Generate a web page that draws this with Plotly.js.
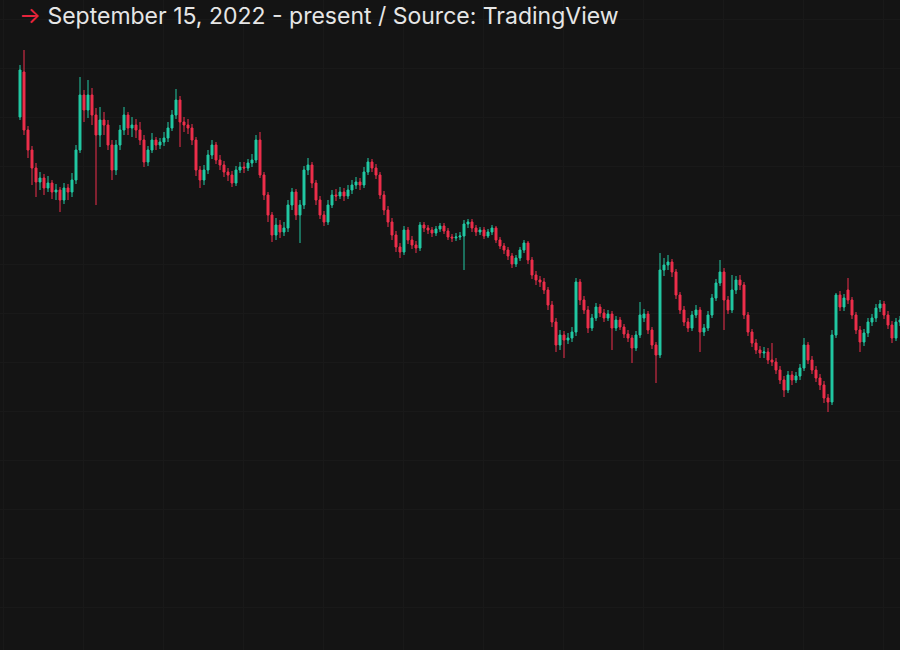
<!DOCTYPE html>
<html>
<head>
<meta charset="utf-8">
<script src="https://cdn.plot.ly/plotly-3.0.1.min.js"></script>
<style>
  html, body { margin: 0; padding: 0; background: #141414; }
  #chart { width: 900px; height: 650px; }
</style>
</head>
<body>
<div id="chart"></div>
<script>
// ETH/BTC-style ratio, values in units of 0.0001 (3-day candles from 2022-09-15)
const startDate = '2022-09-15';
const stepDays = 3;

const openV = [
783,828,770,750,732,718,722,712,717,708,
710,700,712,708,720,750,805,790,805,785,
765,780,775,755,730,755,770,785,772,775,
770,760,738,750,760,755,758,762,772,785,
800,778,775,772,760,730,720,730,745,755,
740,735,728,725,717,730,733,732,737,740,
760,725,705,685,665,675,668,672,695,708,
685,695,730,735,717,700,685,678,695,705,
704,708,704,710,715,718,715,728,738,732,
725,705,690,678,665,653,648,670,660,655,
652,675,672,670,667,671,674,669,663,662,
663,664,676,678,672,668,670,664,668,672,
660,654,650,644,636,642,650,657,640,625,
620,618,610,595,578,555,565,560,562,568,
618,600,590,572,582,593,587,582,586,572,
580,573,566,562,552,565,582,586,570,555,
545,630,635,638,628,605,590,578,572,585,
590,568,572,585,602,617,628,600,590,610,
620,615,585,568,557,550,547,548,540,538,
530,520,510,525,520,524,532,555,540,530,
522,515,502,498,565,605,593,610,600,585,
570,558,567,578,582,592,596,585,575,562,
578
];

const closeV = [
830,770,750,732,718,722,712,717,708,710,
700,712,708,720,750,805,790,805,785,765,
780,775,755,730,755,770,785,772,775,770,
760,738,750,760,755,758,762,772,785,800,
778,775,772,760,730,720,730,745,755,740,
735,728,725,717,730,733,732,737,740,760,
725,705,685,665,675,668,672,695,708,685,
695,730,735,717,700,685,678,695,705,704,
708,704,710,715,718,715,728,738,732,725,
705,690,678,665,653,648,670,660,655,652,
675,672,670,667,671,674,669,663,662,663,
664,676,678,672,668,670,664,668,672,660,
654,650,644,636,642,650,657,640,625,620,
618,610,595,578,555,565,560,562,568,618,
600,590,572,582,593,587,582,586,572,580,
573,566,562,552,565,585,586,570,555,545,
630,635,638,628,605,590,578,572,585,590,
568,572,585,602,617,628,600,590,610,620,
615,585,568,557,550,547,548,540,538,530,
520,510,525,520,524,532,555,540,530,522,
515,502,498,565,605,593,602,600,585,570,
558,567,578,582,592,596,585,575,562,578,
580
];

const highV = [
835,850,774,754,737,728,726,724,720,716,
713,717,716,727,755,823,810,820,812,792,
793,788,780,760,760,775,793,788,783,781,
778,765,754,767,763,762,768,778,790,811,
804,783,781,776,763,734,735,750,760,758,
745,739,732,729,734,738,738,741,746,765,
768,728,708,688,682,680,678,700,712,711,
700,734,742,738,720,704,689,700,710,711,
713,712,715,720,723,722,733,742,741,736,
728,709,694,682,669,657,674,673,664,659,
678,678,675,673,674,677,677,672,666,667,
668,680,681,681,675,673,673,671,675,674,
663,657,653,647,645,653,660,659,643,629,
624,622,613,599,582,570,569,567,573,622,
621,604,594,586,597,596,591,590,589,584,
583,576,570,565,569,598,591,589,573,558,
647,642,645,641,631,608,594,582,589,595,
593,576,589,606,621,640,632,604,625,624,
625,618,588,571,561,554,553,552,557,542,
534,524,529,529,528,536,562,558,544,534,
526,519,506,570,607,609,606,622,603,588,
574,571,582,586,596,600,599,589,579,582,
584
];

const lowV = [
780,765,742,715,703,710,705,708,701,700,
688,696,700,703,716,747,778,782,775,695,
753,765,750,720,725,750,765,765,763,762,
755,733,734,747,750,751,754,758,769,781,
753,768,766,755,724,712,715,726,741,736,
730,723,719,713,714,727,727,729,733,737,
722,700,678,658,660,662,664,668,690,680,
657,691,725,712,695,681,674,675,692,699,
701,699,701,706,711,710,712,725,728,721,
701,685,673,660,648,642,645,656,651,647,
649,668,666,663,664,668,666,660,658,659,
660,630,672,668,664,665,661,662,665,657,
651,646,640,632,633,639,647,636,621,615,
613,606,590,573,548,550,542,556,558,564,
595,586,567,569,579,583,578,579,550,569,
570,562,558,537,549,562,578,566,551,517,
542,624,630,623,601,586,574,568,569,582,
548,564,569,582,599,614,570,586,587,606,
610,581,564,553,546,542,542,536,534,526,
516,503,507,515,517,520,529,536,526,518,
510,497,488,495,562,589,589,596,581,566,
548,554,563,574,578,588,581,571,557,559,
574
];

const DAY = 86400000;
const t0 = Date.UTC(2022, 8, 15);
function iso(ms) { return new Date(ms).toISOString().slice(0, 19).replace('T', ' '); }
const dates = openV.map((_, i) => iso(t0 + i * stepDays * DAY));

const trace = {
  type: 'candlestick',
  x: dates,
  open: openV, high: highV, low: lowV, close: closeV,
  increasing: { line: { color: '#22c9a4', width: 1 }, fillcolor: '#22c9a4' },
  decreasing: { line: { color: '#ee2f4c', width: 1 }, fillcolor: '#ee2f4c' },
  whiskerwidth: 0,
  hoverinfo: 'skip'
};

const layout = {
  width: 900, height: 650,
  margin: { l: 0, r: 0, t: 0, b: 0 },
  paper_bgcolor: '#141414',
  plot_bgcolor: '#141414',
  showlegend: false,
  xaxis: {
    type: 'date',
    range: [iso(t0 - 15 * DAY), iso(t0 + 660 * DAY)],
    rangeslider: { visible: false },
    showticklabels: false, zeroline: false, showline: false, ticks: '',
    showgrid: true, gridcolor: '#191919', gridwidth: 1,
    tick0: iso(t0 - 12.75 * DAY), dtick: 60 * DAY
  },
  yaxis: {
    range: [250, 900],
    showticklabels: false, zeroline: false, showline: false, ticks: '',
    showgrid: true, gridcolor: '#191919', gridwidth: 1,
    tick0: 832, dtick: 49
  },
  annotations: [{
    xref: 'paper', yref: 'paper', x: 0, y: 1,
    xanchor: 'left', yanchor: 'top', xshift: 17, yshift: 0,
    showarrow: false,
    text: '<span style="color:#e8243c">→</span> September 15, 2022 - present / Source: TradingView',
    font: { family: 'Inter, "Open Sans", sans-serif', size: 23, color: '#e6e6e6' },
    align: 'left'
  }]
};

Plotly.newPlot('chart', [trace], layout, { displayModeBar: false, staticPlot: true });
</script>
</body>
</html>
